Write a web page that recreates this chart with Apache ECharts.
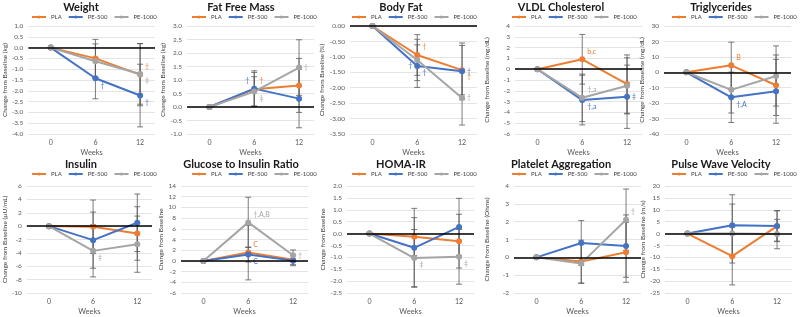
<!DOCTYPE html>
<html>
<head>
<meta charset="utf-8">
<script src="https://cdn.jsdelivr.net/npm/echarts@6/dist/echarts.min.js"></script>
<style>
  html, body { margin: 0; padding: 0; background: #fff; }
  #chart { width: 800px; height: 317px; }
</style>
</head>
<body>
<div id="chart"></div>
<script>
// 基本数据
const weeks = [0, 6, 12];
const groups = ['PLA', 'PE-500', 'PE-1000'];
const groupColors = ['#ED7D31', '#4472C4', '#A5A5A5'];

const titles = ['Weight', 'Fat Free Mass', 'Body Fat', 'VLDL Cholesterol', 'Triglycerides',
  'Insulin', 'Glucose to Insulin Ratio', 'HOMA-IR', 'Platelet Aggregation', 'Pulse Wave Velocity'];
const yNames = ['Change from Baseline (kg)', 'Change from Baseline (kg)', 'Change from Baseline (%)',
  'Change from Baseline (mg/dL)', 'Change from Baseline (mg/dL)', 'Change from Baseline (\u00b5U/mL)',
  'Change from Baseline', 'Change from Baseline', 'Change from Baseline (Ohms)', 'Change from Baseline (m/s)'];
const yMin = [-4, -1, -3.5, -6, -40, -10, -6, -2.5, -2, -25];
const yMax = [1, 3, 0, 4, 30, 6, 14, 2, 4, 20];
const yStep = [0.5, 0.5, 0.5, 1, 10, 2, 2, 0.5, 1, 5];
const yDecimals = [1, 1, 2, 0, 0, 0, 0, 1, 0, 0];

// 每组均值: [PLA, PE-500, PE-1000]
const weightMean = [[0, -0.50, -1.25], [0, -1.42, -2.22], [0, -0.63, -1.22]];
const weightErr = [[0, 0.88, 1.44], [0, 0.95, 1.45], [0, 0.80, 1.40]];
const ffmMean = [[0, 0.66, 0.80], [0, 0.68, 0.31], [0, 0.57, 1.46]];
const ffmErr = [[0, 0.62, 1.00], [0, 0.66, 1.08], [0, 0.55, 1.03]];
const fatMean = [[0, -0.94, -1.43], [0, -1.30, -1.47], [0, -1.10, -2.33]];
const fatErr = [[0, 0.66, 0.80], [0, 0.69, 0.92], [0, 0.67, 0.88]];
const vldlMean = [[0, 0.92, -1.38], [0, -2.86, -2.55], [0, -2.65, -1.54]];
const vldlErr = [[0, 2.30, 2.70], [0, 2.30, 2.93], [0, 2.20, 2.60]];
const tgMean = [[0, 4.5, -8.4], [0, -16.2, -12.3], [0, -11.4, -2.4]];
const tgErr = [[0, 15.0, 19.6], [0, 16.3, 20.7], [0, 15.0, 19.5]];
const insulinMean = [[0, -0.1, -1.1], [0, -2.1, 0.5], [0, -3.7, -2.7]];
const insulinErr = [[0, 4.0, 4.0], [0, 4.2, 4.3], [0, 3.9, 4.2]];
const giMean = [[0, 1.55, 0.2], [0, 1.2, 0.05], [0, 7.2, 1.05]];
const giErr = [[0, 5.1, 0.9], [0, 1.4, 0.95], [0, 4.7, 1.0]];
const homaMean = [[0, -0.13, -0.32], [0, -0.60, 0.28], [0, -1.03, -0.98]];
const homaErr = [[0, 0.80, 1.13], [0, 1.66, 1.20], [0, 1.20, 1.15]];
const plateletMean = [[0, -0.24, 0.28], [0, 0.80, 0.63], [0, -0.34, 2.11]];
const plateletErr = [[0, 1.20, 1.68], [0, 1.26, 1.75], [0, 1.12, 1.72]];
const pwvMean = [[0, -9.5, 3.1], [0, 3.5, 3.2], [0, 0.0, -0.2]];
const pwvErr = [[0, 12.1, 6.5], [0, 12.8, 6.4], [0, 12.4, 6.2]];

// 显著性标注: [组, 周索引, 文字, 位置]
const weightNotes = [[0, 2, '\u2020', 'tr'], [2, 2, '\u2021', 'br'], [1, 1, '\u2020', 'br'], [1, 2, '\u2020', 'br']];
const ffmNotes = [[1, 1, '\u2020', 'tl'], [0, 1, '\u2020', 'tr'], [2, 1, '\u2021', 'br'], [2, 2, '\u2020', 'r']];
const fatNotes = [[0, 1, '\u2020', 'tr'], [1, 1, '\u2020', 'l'], [1, 1, '\u2020', 'br'],
  [1, 2, '\u2020', 'r'], [0, 2, '\u2020', 'br'], [2, 2, '\u2020', 'r']];
const vldlNotes = [[0, 1, 'b,c', 'tr'], [2, 1, '\u2020,a', 'tr'], [1, 1, '\u2020,a', 'br'], [1, 2, '\u2021', 'r']];
const tgNotes = [[0, 1, 'B', 'tr'], [1, 1, '\u2020,A', 'br']];
const insulinNotes = [[2, 1, '\u2021', 'br']];
const giNotes = [[2, 1, '\u2020,A,B', 'tr'], [0, 1, 'C', 'tr'], [1, 1, 'C', 'br'], [2, 2, '\u2020', 'r']];
const homaNotes = [[2, 1, '\u2021', 'br'], [2, 2, '\u2021', 'br']];
const plateletNotes = [[2, 2, '\u2020', 'tr']];
const pwvNotes = [];

const means = [weightMean, ffmMean, fatMean, vldlMean, tgMean, insulinMean, giMean, homaMean, plateletMean, pwvMean];
const errs = [weightErr, ffmErr, fatErr, vldlErr, tgErr, insulinErr, giErr, homaErr, plateletErr, pwvErr];
const notes = [weightNotes, ffmNotes, fatNotes, vldlNotes, tgNotes, insulinNotes, giNotes, homaNotes, plateletNotes, pwvNotes];

// 布局
const gridLeft = [28, 27, 30, 35, 24, 25, 21, 27, 34, 25];
const placeOffset = { r: [5, 0], tr: [5, -8], br: [5, 7], l: [-5, 0], tl: [-5, -8], bl: [-5, 7] };
const FONT = 'Lato, "Open Sans", sans-serif';

const chart = echarts.init(document.getElementById('chart'));
const option = {
  animation: false,
  textStyle: { fontFamily: FONT },
  graphic: [], legend: [], grid: [], xAxis: [], yAxis: [], series: []
};

titles.forEach((t, i) => {
  const col = i % 5, row = Math.floor(i / 5);
  const px = col * 160, py = row * 157;
  // 标题
  option.graphic.push({
    type: 'text', x: px + 81, y: py + 7,
    style: { text: t, align: 'center', verticalAlign: 'middle', fill: '#1a1a1a',
      fontSize: 11, fontWeight: 'bold', fontFamily: FONT }
  });
  option.legend.push({
    data: groups, left: px + 31, top: py + 14, itemWidth: 14, itemHeight: 4, itemGap: 6,
    textStyle: { fontSize: 6, color: '#404040', fontFamily: FONT }, padding: 0
  });
  option.grid.push({ left: px + gridLeft[i], top: py + (row ? 29 : 26), width: 127, height: 108 });
  option.xAxis.push({
    gridIndex: i, type: 'value', min: -3, max: 14,
    axisLine: { show: false, onZero: false }, axisTick: { show: false }, splitLine: { show: false },
    axisLabel: { customValues: weeks, fontSize: 7, color: '#595959', margin: 5 },
    name: 'Weeks', nameLocation: 'middle', nameGap: 15,
    nameTextStyle: { fontSize: 7.5, color: '#595959' }
  });
  option.yAxis.push({
    gridIndex: i, type: 'value', min: yMin[i], max: yMax[i], interval: yStep[i],
    axisLine: { show: false }, axisTick: { show: false },
    splitLine: { lineStyle: { color: '#D9D9D9', width: 0.7 } },
    axisLabel: { fontSize: 6.5, color: '#595959', margin: 5,
      formatter: v => v.toFixed(yDecimals[i]) },
    name: yNames[i], nameLocation: 'middle', nameGap: gridLeft[i] - 10,
    nameTextStyle: { fontSize: 6.5, color: '#404040' }
  });

  // 误差线
  const bars = [];
  errs[i].forEach((e, g) => {
    e.forEach((d, k) => {
      if (d > 0) bars.push([weeks[k], means[i][g][k] - d, means[i][g][k] + d]);
    });
  });
  option.series.push({
    type: 'custom', xAxisIndex: i, yAxisIndex: i, z: 1, silent: true,
    encode: { x: 0, y: [1, 2] }, data: bars,
    renderItem: (params, api) => {
      const hi = api.coord([api.value(0), api.value(2)]);
      const lo = api.coord([api.value(0), api.value(1)]);
      const st = { stroke: '#595959', lineWidth: 0.8 };
      return { type: 'group', children: [
        { type: 'line', shape: { x1: hi[0], y1: hi[1], x2: lo[0], y2: lo[1] }, style: st },
        { type: 'line', shape: { x1: hi[0] - 3, y1: hi[1], x2: hi[0] + 3, y2: hi[1] }, style: st },
        { type: 'line', shape: { x1: lo[0] - 3, y1: lo[1], x2: lo[0] + 3, y2: lo[1] }, style: st }
      ] };
    }
  });

  groups.forEach((g, gi) => {
    const s = {
      name: g, type: 'line', xAxisIndex: i, yAxisIndex: i, z: 3,
      data: weeks.map((w, k) => [w, means[i][gi][k]]),
      symbol: 'circle', symbolSize: 6,
      lineStyle: { color: groupColors[gi], width: 2 },
      itemStyle: { color: groupColors[gi] }
    };
    if (gi === 0) {
      s.markLine = {
        silent: true, symbol: ['none', 'none'], label: { show: false },
        lineStyle: { color: '#000', width: 1.5, type: 'solid' },
        data: [{ yAxis: 0 }]
      };
    }
    option.series.push(s);
  });

  // 标注
  const nt = notes[i];
  option.series.push({
    type: 'custom', xAxisIndex: i, yAxisIndex: i, z: 4, silent: true,
    data: nt.map(n => [weeks[n[1]], means[i][n[0]][n[1]]]),
    renderItem: (params, api) => {
      const n = nt[params.dataIndex];
      const p = api.coord([api.value(0), api.value(1)]);
      const off = placeOffset[n[3]];
      return {
        type: 'text', x: p[0] + off[0], y: p[1] + off[1],
        style: { text: n[2], fill: groupColors[n[0]], fontSize: 7, fontFamily: FONT,
          align: off[0] < 0 ? 'right' : 'left', verticalAlign: 'middle' }
      };
    }
  });
});

chart.setOption(option);
</script>
</body>
</html>
